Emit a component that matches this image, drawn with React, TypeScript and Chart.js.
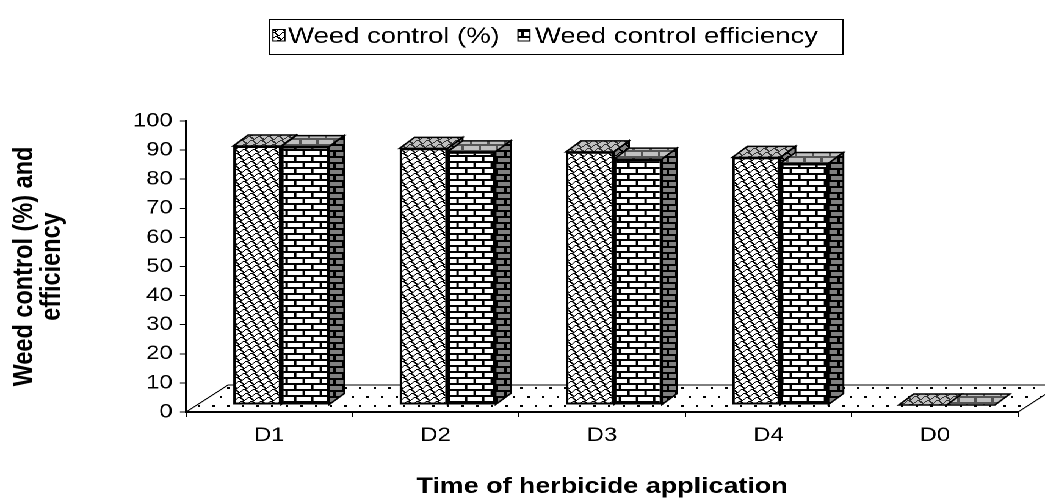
import React, { useEffect, useRef } from 'react';
import { Chart, registerables } from 'chart.js';

Chart.register(...registerables);

// ---------- data ----------
const categories = ['D1', 'D2', 'D3', 'D4', 'D0'];
const weedControl = [89, 88.2, 87, 85.1, 0];
const weedControlEfficiency = [88.8, 87, 84.5, 83, 0];
const seriesLabels = ['Weed control (%)', 'Weed control efficiency'];
const yMin = 0;
const yMax = 100;
const yStep = 10;
const xTitle = 'Time of herbicide application';
const yTitle = ['Weed control (%) and', 'efficiency'];

// ---------- layout / style ----------
const STRETCH = 1.2208; // reference is horizontally stretched
const W = 856;
const H = 502;
const FONT = "'Liberation Sans', Arial, sans-serif";
const BAR_DX = 9.8; // bars sit in the middle of the floor depth
const BAR_DY = -7;
const DEPTH_X = 12.3; // bar depth (oblique projection)
const DEPTH_Y = -11;
const FLOOR_X = 34.4; // floor depth
const FLOOR_Y = -27;

// zig-zag hatch: V rows, each block shifted sideways
function zigRows(): string[] {
  const rows: string[] = [];
  for (let b = 0; b < 4; b++) {
    for (let i = 0; i < 4; i++) {
      const r = '........'.split('');
      const a = (i + 2 * b) % 8;
      const c = (7 - i + 2 * b) % 8;
      r[a] = '#';
      r[(a + 1) % 8] = '#';
      r[c] = '#';
      rows.push(r.join(''));
    }
  }
  return rows;
}
const ZIG = zigRows();
const BRICK = [
  '##############',
  '##############',
  '##............',
  '##............',
  '##............',
  '##............',
  '##############',
  '##############',
  '.......##.....',
  '.......##.....',
  '.......##.....',
  '.......##.....',
];
const DOTS = [
  '##..........',
  '##..........',
  '............',
  '............',
  '............',
  '............',
  '............',
  '............',
  '............',
  '......##....',
  '......##....',
  '............',
  '............',
  '............',
  '............',
  '............',
  '............',
  '............',
];

function makePattern(ctx: CanvasRenderingContext2D, rows: string[], fg: string, bg: string | null) {
  const s = 2;
  const c = document.createElement('canvas');
  c.width = rows[0].length * s;
  c.height = rows.length * s;
  const g = c.getContext('2d')!;
  if (bg) {
    g.fillStyle = bg;
    g.fillRect(0, 0, c.width, c.height);
  }
  g.fillStyle = fg;
  rows.forEach((r, y) => {
    for (let x = 0; x < r.length; x++) if (r[x] === '#') g.fillRect(x * s, y * s, s, s);
  });
  const p = ctx.createPattern(c, 'repeat')!;
  p.setTransform(new DOMMatrix([1 / s, 0, 0, 1 / s, 0, 0]));
  return p;
}

function poly(ctx: CanvasRenderingContext2D, pts: number[][], fill: any, lw = 1.5) {
  ctx.beginPath();
  pts.forEach(([x, y], i) => (i ? ctx.lineTo(x, y) : ctx.moveTo(x, y)));
  ctx.closePath();
  ctx.fillStyle = fill;
  ctx.fill();
  ctx.lineWidth = lw;
  ctx.strokeStyle = '#000';
  ctx.lineJoin = 'miter';
  ctx.stroke();
}

export default function App() {
  const ref = useRef<HTMLCanvasElement | null>(null);

  useEffect(() => {
    const canvas = ref.current!;
    const ctx0 = canvas.getContext('2d')!;
    const zigFront = makePattern(ctx0, ZIG, '#000', '#fff');
    const zigTop = makePattern(ctx0, ZIG, '#333', '#c0c0c0');
    const zigSide = makePattern(ctx0, ZIG, '#000', '#808080');
    const brickFront = makePattern(ctx0, BRICK, '#000', '#fff');
    const brickTop = makePattern(ctx0, BRICK, '#555', '#c0c0c0');
    const brickSide = makePattern(ctx0, BRICK, '#000', '#808080');
    const dots = makePattern(ctx0, DOTS, '#000', '#fff');

    const barBox = (bar: any) => {
      const L = bar.x - bar.width / 2 + BAR_DX;
      const R = bar.x + bar.width / 2 + BAR_DX;
      const T = bar.y + BAR_DY;
      const B = bar.base + BAR_DY;
      return { L, R, T, B };
    };

    const threeD = {
      id: 'threeD',
      beforeDraw(chart: any) {
        const { ctx, chartArea } = chart;
        const { left, right, bottom } = chartArea;
        ctx.save();
        poly(
          ctx,
          [
            [left, bottom],
            [right, bottom],
            [right + FLOOR_X, bottom + FLOOR_Y],
            [left + FLOOR_X, bottom + FLOOR_Y],
          ],
          dots,
          1
        );
        ctx.restore();
      },
      beforeDatasetsDraw(chart: any) {
        const ctx = chart.ctx;
        ctx.save();
        chart.getDatasetMeta(0).data.forEach((bar: any) => {
          const { R, T, B } = barBox(bar);
          if (B - T > 0.5) {
            poly(
              ctx,
              [
                [R, T],
                [R + DEPTH_X, T + DEPTH_Y],
                [R + DEPTH_X, B + DEPTH_Y],
                [R, B],
              ],
              zigSide
            );
          }
        });
        ctx.restore();
        ctx.save();
        ctx.translate(BAR_DX, BAR_DY);
      },
      afterDatasetsDraw(chart: any) {
        const ctx = chart.ctx;
        ctx.restore();
        ctx.save();
        const m0 = chart.getDatasetMeta(0).data;
        const m1 = chart.getDatasetMeta(1).data;
        for (let i = 0; i < m0.length; i++) {
          [
            [m0[i], zigTop],
            [m1[i], brickTop],
          ].forEach(([bar, pat]: any) => {
            const { L, R, T } = barBox(bar);
            poly(
              ctx,
              [
                [L, T],
                [R, T],
                [R + DEPTH_X, T + DEPTH_Y],
                [L + DEPTH_X, T + DEPTH_Y],
              ],
              pat
            );
          });
          const { R, T, B } = barBox(m1[i]);
          if (B - T > 0.5) {
            poly(
              ctx,
              [
                [R, T],
                [R + DEPTH_X, T + DEPTH_Y],
                [R + DEPTH_X, B + DEPTH_Y],
                [R, B],
              ],
              brickSide
            );
          }
        }
        ctx.restore();
      },
      afterDraw(chart: any) {
        const ctx = chart.ctx;
        ctx.save();
        // legend frame
        ctx.lineWidth = 1;
        ctx.strokeStyle = '#000';
        ctx.strokeRect(220.5, 19.5, 470, 35);
        const items = [
          { x: 223.6, tx: 236, pat: zigFront, label: seriesLabels[0] },
          { x: 424.3, tx: 438.2, pat: brickFront, label: seriesLabels[1] },
        ];
        ctx.font = `22.5px ${FONT}`;
        ctx.textBaseline = 'alphabetic';
        ctx.textAlign = 'left';
        items.forEach((it) => {
          ctx.fillStyle = it.pat;
          ctx.fillRect(it.x, 29.5, 9.8, 11.5);
          ctx.lineWidth = 1;
          ctx.strokeRect(it.x, 29.5, 9.8, 11.5);
          ctx.fillStyle = '#000';
          ctx.fillText(it.label, it.tx, 43);
        });
        ctx.restore();
      },
    };

    const chart = new Chart(canvas, {
      type: 'bar',
      data: {
        labels: categories,
        datasets: [
          {
            label: seriesLabels[0],
            data: weedControl,
            backgroundColor: zigFront as any,
            borderColor: '#000',
            borderWidth: 2,
            borderSkipped: false,
            categoryPercentage: 0.577,
            barPercentage: 1,
            clip: false as any,
          },
          {
            label: seriesLabels[1],
            data: weedControlEfficiency,
            backgroundColor: brickFront as any,
            borderColor: '#000',
            borderWidth: 2,
            borderSkipped: false,
            categoryPercentage: 0.577,
            barPercentage: 1,
            clip: false as any,
          },
        ],
      },
      options: {
        animation: false,
        responsive: true,
        maintainAspectRatio: false,
        devicePixelRatio: 2,
        layout: { padding: { top: 121, right: 22.1, left: 7.5, bottom: 0 } },
        plugins: { legend: { display: false }, tooltip: { enabled: false } },
        scales: {
          x: {
            grid: { offset: true, drawOnChartArea: false, tickLength: 5, color: '#000', lineWidth: 1 },
            border: { display: true, color: '#000', width: 2 },
            ticks: { color: '#000', font: { family: FONT, size: 19.5 }, padding: 7 },
            title: {
              display: true,
              text: xTitle,
              color: '#000',
              font: { family: FONT, size: 22, weight: 'bold', lineHeight: 1.2 },
              padding: { top: 0, bottom: 1.8 },
            },
            afterFit: (s: any) => {
              s.height = 90;
            },
          },
          y: {
            min: yMin,
            max: yMax,
            grid: { drawOnChartArea: false, tickLength: 5, color: '#000', lineWidth: 1 },
            border: { display: true, color: '#000', width: 2 },
            ticks: { stepSize: yStep, color: '#000', font: { family: FONT, size: 19.5 }, padding: 6 },
            title: {
              display: true,
              text: yTitle,
              color: '#000',
              font: { family: FONT, size: 23.5, weight: 'bold', lineHeight: 0.95 },
              padding: { top: 1.5, bottom: 0 },
            },
            afterFit: (s: any) => {
              s.width = 152.4 - 7.5;
            },
          },
        },
      },
      plugins: [threeD],
    });
    return () => chart.destroy();
  }, []);

  return (
    <div
      style={{
        position: 'fixed',
        left: 0,
        top: 0,
        width: W,
        height: H,
        transform: `scaleX(${STRETCH})`,
        transformOrigin: '0 0',
        background: '#fff',
      }}
    >
      <canvas ref={ref} />
    </div>
  );
}
